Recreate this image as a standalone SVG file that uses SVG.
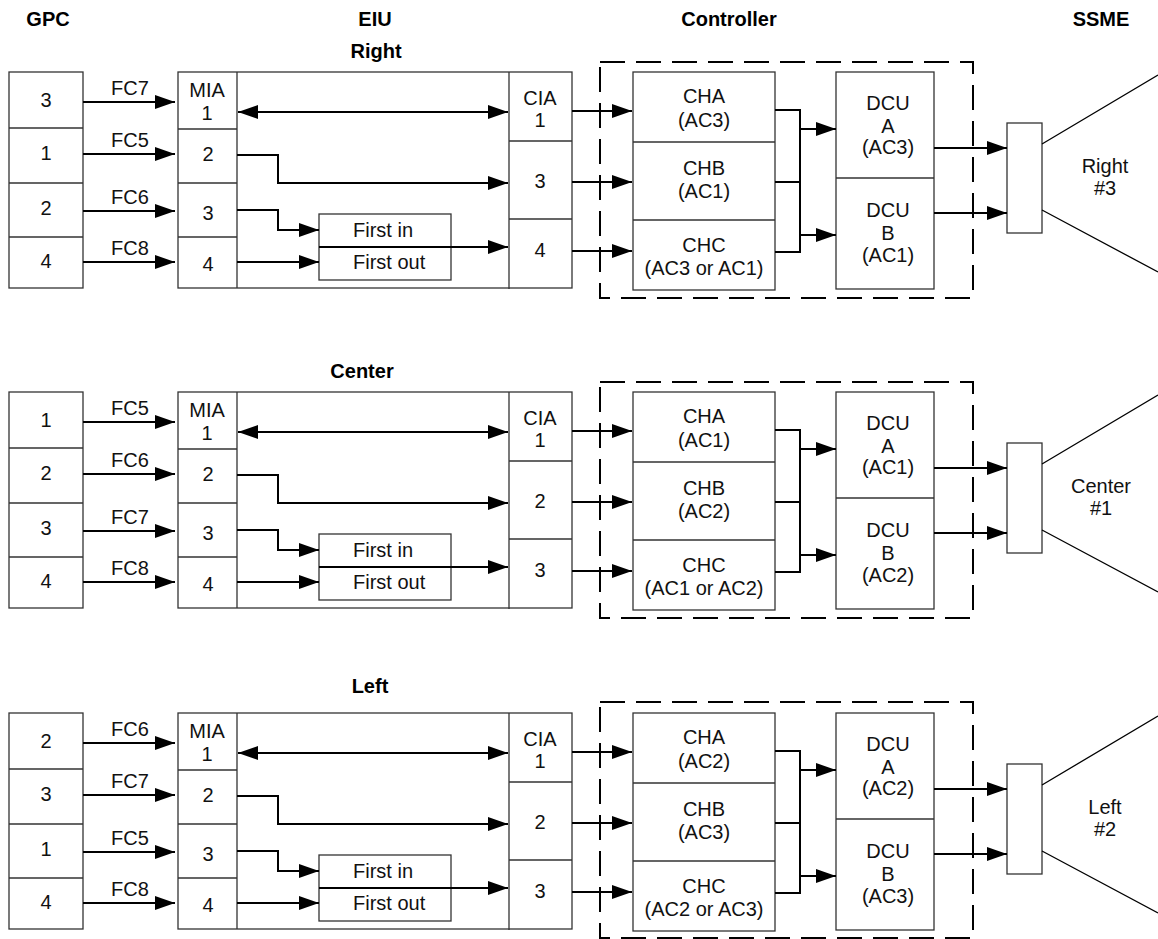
<svg xmlns="http://www.w3.org/2000/svg" width="1158" height="939" viewBox="0 0 1158 939">
<style>
text{font-family:"Liberation Sans",Arial,Helvetica,sans-serif;font-size:20px;fill:#111;text-anchor:middle}
.h{font-weight:bold;fill:#000}
.fifo{text-anchor:start}
.box{fill:#fff;stroke:#333;stroke-width:1.3}
.ln{fill:none;stroke:#333;stroke-width:1.3}
.c{fill:none;stroke:#000;stroke-width:2}
.a{fill:none;stroke:#000;stroke-width:2;marker-end:url(#ah)}
.d{fill:none;stroke:#000;stroke-width:2;marker-start:url(#ah);marker-end:url(#ah)}
.dash{fill:none;stroke:#000;stroke-width:2;stroke-dasharray:25 11}
.noz{fill:none;stroke:#000;stroke-width:1.3}
</style>
<defs>
<marker id="ah" viewBox="0 0 20 14" refX="20" refY="7" markerWidth="20" markerHeight="14" markerUnits="userSpaceOnUse" orient="auto-start-reverse">
<path d="M0,0 L20,7 L0,14 z" fill="#000"/>
</marker>
</defs>
<rect width="1158" height="939" fill="#fff"/>

<g id="headers">
<text class="h" x="48" y="26">GPC</text>
<text class="h" x="375" y="26">EIU</text>
<text class="h" x="729" y="26">Controller</text>
<text class="h" x="1101" y="26">SSME</text>
</g>

<!-- ===================== RIGHT SECTION ===================== -->
<g id="right">
<text class="h" id="right-title" x="376" y="58" font-size="21">Right</text>
<g id="right-gpc">
<rect class="box" x="9" y="72" width="74" height="216"/>
<path class="ln" d="M9,128H83M9,183H83M9,237H83"/>
<text x="46" y="107">3</text><text x="46" y="160">1</text><text x="46" y="215">2</text><text x="46" y="268">4</text>
</g>
<g id="right-eiu">
<rect class="box" x="178" y="72" width="394" height="216"/>
<path class="ln" d="M237,72V288M178,129H237M178,183H237M178,237H237M509,72V289M509,141H572M509,219H572"/>
<text x="207" y="97">MIA</text><text x="207" y="120">1</text>
<text x="208" y="161">2</text><text x="208" y="220">3</text><text x="208" y="271">4</text>
<text x="540" y="105">CIA</text><text x="540" y="127">1</text>
<text x="540" y="188">3</text><text x="540" y="257">4</text>
</g>
<g id="right-fifo">
<rect class="box" x="319" y="214" width="132" height="66"/>
<path class="ln" d="M319,247H451"/>
<text class="fifo" x="353" y="237">First in</text>
<text class="fifo" x="353" y="269">First out</text>
</g>
<g id="right-controller">
<rect class="dash" x="600" y="62" width="373" height="236"/>
</g>
<g id="right-ch">
<rect class="box" x="633" y="72" width="142" height="218"/>
<path class="ln" d="M633,142H775M633,220H775"/>
<text x="704" y="103">CHA</text><text x="704" y="127">(AC3)</text>
<text x="704" y="175">CHB</text><text x="704" y="198">(AC1)</text>
<text x="704" y="252">CHC</text><text x="704" y="275">(AC3 or AC1)</text>
</g>
<g id="right-dcu">
<rect class="box" x="836" y="72" width="98" height="217"/>
<path class="ln" d="M836,178H934"/>
<text x="888" y="110">DCU</text><text x="888" y="133">A</text><text x="888" y="154">(AC3)</text>
<text x="888" y="217">DCU</text><text x="888" y="240">B</text><text x="888" y="262">(AC1)</text>
</g>
<g id="right-ssme">
<rect class="box" x="1007" y="123" width="35" height="110"/>
<path class="noz" d="M1042,144L1158,75M1042,210L1158,272"/>
<text x="1105" y="173">Right</text><text x="1105" y="195">#3</text>
</g>
<g id="right-connectors">
<path class="a" d="M83,102H175"/><path class="a" d="M83,154H175"/><path class="a" d="M83,211H175"/><path class="a" d="M83,262H175"/>
<text x="130" y="95">FC7</text><text x="130" y="147">FC5</text><text x="130" y="204">FC6</text><text x="130" y="255">FC8</text>
<path class="d" d="M238,112H508"/>
<path class="a" d="M237,155H278V183H508"/>
<path class="a" d="M237,210H278V230H319"/>
<path class="a" d="M237,262H319"/>
<path class="a" d="M319,247H508"/>
<path class="a" d="M572,111H632"/><path class="a" d="M572,182H632"/><path class="a" d="M572,251H632"/>
<path class="c" d="M775,110H800M775,182H800M775,252H800M800,109V253"/>
<path class="a" d="M800,129H836"/><path class="a" d="M800,235H836"/>
<path class="a" d="M934,148H1007"/><path class="a" d="M934,213H1007"/>
</g>
</g>

<!-- ===================== CENTER SECTION ===================== -->
<g id="center" transform="translate(0,320)">
<text class="h" id="center-title" x="362" y="58" font-size="24">Center</text>
<g id="center-gpc">
<rect class="box" x="9" y="72" width="74" height="216"/>
<path class="ln" d="M9,128H83M9,183H83M9,237H83"/>
<text x="46" y="107">1</text><text x="46" y="160">2</text><text x="46" y="215">3</text><text x="46" y="268">4</text>
</g>
<g id="center-eiu">
<rect class="box" x="178" y="72" width="394" height="216"/>
<path class="ln" d="M237,72V288M178,129H237M178,183H237M178,237H237M509,72V289M509,141H572M509,219H572"/>
<text x="207" y="97">MIA</text><text x="207" y="120">1</text>
<text x="208" y="161">2</text><text x="208" y="220">3</text><text x="208" y="271">4</text>
<text x="540" y="105">CIA</text><text x="540" y="127">1</text>
<text x="540" y="188">2</text><text x="540" y="257">3</text>
</g>
<g id="center-fifo">
<rect class="box" x="319" y="214" width="132" height="66"/>
<path class="ln" d="M319,247H451"/>
<text class="fifo" x="353" y="237">First in</text>
<text class="fifo" x="353" y="269">First out</text>
</g>
<g id="center-controller">
<rect class="dash" x="600" y="62" width="373" height="236"/>
</g>
<g id="center-ch">
<rect class="box" x="633" y="72" width="142" height="218"/>
<path class="ln" d="M633,142H775M633,220H775"/>
<text x="704" y="103">CHA</text><text x="704" y="127">(AC1)</text>
<text x="704" y="175">CHB</text><text x="704" y="198">(AC2)</text>
<text x="704" y="252">CHC</text><text x="704" y="275">(AC1 or AC2)</text>
</g>
<g id="center-dcu">
<rect class="box" x="836" y="72" width="98" height="217"/>
<path class="ln" d="M836,178H934"/>
<text x="888" y="110">DCU</text><text x="888" y="133">A</text><text x="888" y="154">(AC1)</text>
<text x="888" y="217">DCU</text><text x="888" y="240">B</text><text x="888" y="262">(AC2)</text>
</g>
<g id="center-ssme">
<rect class="box" x="1007" y="123" width="35" height="110"/>
<path class="noz" d="M1042,144L1158,75M1042,210L1158,272"/>
<text x="1101" y="173">Center</text><text x="1101" y="195">#1</text>
</g>
<g id="center-connectors">
<path class="a" d="M83,102H175"/><path class="a" d="M83,154H175"/><path class="a" d="M83,211H175"/><path class="a" d="M83,262H175"/>
<text x="130" y="95">FC5</text><text x="130" y="147">FC6</text><text x="130" y="204">FC7</text><text x="130" y="255">FC8</text>
<path class="d" d="M238,112H508"/>
<path class="a" d="M237,155H278V183H508"/>
<path class="a" d="M237,210H278V230H319"/>
<path class="a" d="M237,262H319"/>
<path class="a" d="M319,247H508"/>
<path class="a" d="M572,111H632"/><path class="a" d="M572,182H632"/><path class="a" d="M572,251H632"/>
<path class="c" d="M775,110H800M775,182H800M775,252H800M800,109V253"/>
<path class="a" d="M800,129H836"/><path class="a" d="M800,235H836"/>
<path class="a" d="M934,148H1007"/><path class="a" d="M934,213H1007"/>
</g>
</g>

<!-- ===================== LEFT SECTION ===================== -->
<g id="left" transform="translate(0,641)">
<text class="h" id="left-title" x="370" y="52" font-size="24">Left</text>
<g id="left-gpc">
<rect class="box" x="9" y="72" width="74" height="216"/>
<path class="ln" d="M9,128H83M9,183H83M9,237H83"/>
<text x="46" y="107">2</text><text x="46" y="160">3</text><text x="46" y="215">1</text><text x="46" y="268">4</text>
</g>
<g id="left-eiu">
<rect class="box" x="178" y="72" width="394" height="216"/>
<path class="ln" d="M237,72V288M178,129H237M178,183H237M178,237H237M509,72V289M509,141H572M509,219H572"/>
<text x="207" y="97">MIA</text><text x="207" y="120">1</text>
<text x="208" y="161">2</text><text x="208" y="220">3</text><text x="208" y="271">4</text>
<text x="540" y="105">CIA</text><text x="540" y="127">1</text>
<text x="540" y="188">2</text><text x="540" y="257">3</text>
</g>
<g id="left-fifo">
<rect class="box" x="319" y="214" width="132" height="66"/>
<path class="ln" d="M319,247H451"/>
<text class="fifo" x="353" y="237">First in</text>
<text class="fifo" x="353" y="269">First out</text>
</g>
<g id="left-controller">
<rect class="dash" x="600" y="61" width="373" height="236"/>
</g>
<g id="left-ch">
<rect class="box" x="633" y="72" width="142" height="218"/>
<path class="ln" d="M633,142H775M633,220H775"/>
<text x="704" y="103">CHA</text><text x="704" y="127">(AC2)</text>
<text x="704" y="175">CHB</text><text x="704" y="198">(AC3)</text>
<text x="704" y="252">CHC</text><text x="704" y="275">(AC2 or AC3)</text>
</g>
<g id="left-dcu">
<rect class="box" x="836" y="72" width="98" height="217"/>
<path class="ln" d="M836,178H934"/>
<text x="888" y="110">DCU</text><text x="888" y="133">A</text><text x="888" y="154">(AC2)</text>
<text x="888" y="217">DCU</text><text x="888" y="240">B</text><text x="888" y="262">(AC3)</text>
</g>
<g id="left-ssme">
<rect class="box" x="1007" y="123" width="35" height="110"/>
<path class="noz" d="M1042,144L1158,75M1042,210L1158,272"/>
<text x="1105" y="173">Left</text><text x="1105" y="195">#2</text>
</g>
<g id="left-connectors">
<path class="a" d="M83,102H175"/><path class="a" d="M83,154H175"/><path class="a" d="M83,211H175"/><path class="a" d="M83,262H175"/>
<text x="130" y="95">FC6</text><text x="130" y="147">FC7</text><text x="130" y="204">FC5</text><text x="130" y="255">FC8</text>
<path class="d" d="M238,112H508"/>
<path class="a" d="M237,155H278V183H508"/>
<path class="a" d="M237,210H278V230H319"/>
<path class="a" d="M237,262H319"/>
<path class="a" d="M319,247H508"/>
<path class="a" d="M572,111H632"/><path class="a" d="M572,182H632"/><path class="a" d="M572,251H632"/>
<path class="c" d="M775,110H800M775,182H800M775,252H800M800,109V253"/>
<path class="a" d="M800,129H836"/><path class="a" d="M800,235H836"/>
<path class="a" d="M934,148H1007"/><path class="a" d="M934,213H1007"/>
</g>
</g>
</svg>
